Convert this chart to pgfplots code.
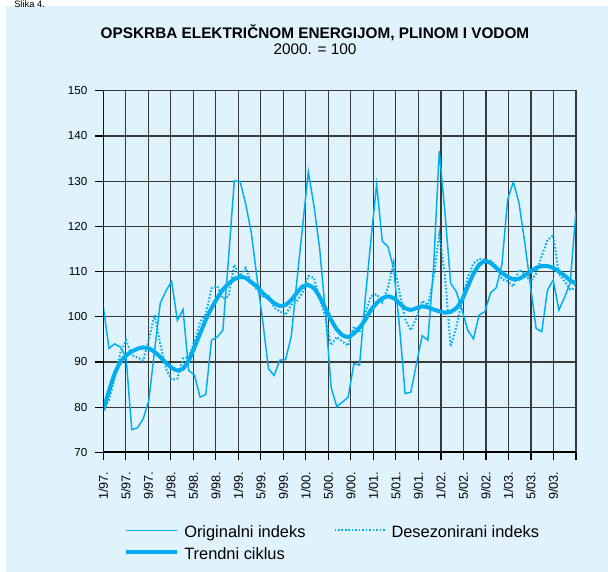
\documentclass[border=0pt]{standalone}
\usepackage{fontspec}
\setmainfont{Liberation Sans}
\usepackage{pgfplots}
\pgfplotsset{compat=1.18}
\usepackage{pgfplotstable}
\definecolor{bg}{HTML}{E0F2FC}
\definecolor{cy}{HTML}{00AEEF}
\definecolor{gridc}{HTML}{3A3A3A}

\pgfplotstableread{
i orig desez trend
0 102.2 79.5 79.3
1 93.0 81.5 83.6
2 94.0 86.5 87.4
3 93.3 92.0 90.0
4 91.0 94.8 91.4
5 75.0 91.5 92.3
6 75.4 91.0 92.9
7 77.4 90.3 93.2
8 81.5 95.0 93.0
9 92.5 100.4 92.2
10 103.0 94.0 91.1
11 105.7 88.5 89.8
12 107.8 86.0 88.7
13 99.2 86.3 88.1
14 101.6 90.8 88.5
15 88.1 91.0 90.3
16 87.1 94.6 93.2
17 82.2 98.8 96.3
18 82.8 100.6 99.3
19 94.8 106.3 101.9
20 95.5 106.8 104.1
21 97.0 104.0 106.0
22 113.0 104.5 107.3
23 130.0 111.5 108.3
24 130.0 109.0 108.8
25 125.0 110.8 108.6
26 118.5 107.5 107.6
27 108.5 106.0 106.7
28 99.0 104.5 105.2
29 88.5 104.8 104.1
30 87.0 102.0 103.0
31 90.4 101.2 102.4
32 90.5 100.4 102.6
33 95.6 102.6 103.7
34 108.0 103.5 105.3
35 120.0 105.3 106.7
36 132.1 109.0 107.0
37 124.5 108.6 106.3
38 115.0 104.0 104.4
39 101.0 100.0 101.9
40 84.4 93.7 99.3
41 80.1 95.5 97.2
42 81.1 94.5 95.9
43 82.2 93.6 95.5
44 89.6 97.8 96.3
45 89.3 96.5 97.6
46 104.0 100.7 99.3
47 117.0 104.5 101.5
48 129.3 105.0 103.0
49 116.7 103.2 104.1
50 115.5 106.5 104.5
51 110.5 112.0 104.1
52 98.0 105.5 103.0
53 83.0 99.5 101.9
54 83.3 97.0 101.5
55 89.6 99.8 101.9
56 95.8 103.5 102.3
57 94.8 102.6 102.1
58 111.0 108.5 101.6
59 136.7 118.2 101.2
60 123.0 109.0 100.9
61 107.4 93.4 101.1
62 105.5 97.8 101.9
63 101.5 103.5 103.7
64 97.0 108.8 106.7
65 95.1 111.8 109.5
66 100.4 112.8 111.5
67 101.1 112.6 112.3
68 105.3 112.4 111.9
69 106.4 111.2 110.8
70 111.5 108.3 109.7
71 125.9 107.8 108.8
72 129.8 106.7 108.3
73 125.2 110.4 108.4
74 116.5 109.4 109.1
75 107.0 107.8 110.0
76 97.4 109.5 110.8
77 96.7 113.5 111.2
78 105.9 117.0 111.2
79 108.1 118.0 110.8
80 101.5 109.6 110.0
81 104.3 107.8 109.1
82 107.5 106.0 108.0
83 123.3 106.4 107.3
}\data

\begin{document}
\begin{tikzpicture}
\useasboundingbox (0,0) rectangle (456pt,-429pt);
\begin{scope}[x=0.75pt,y=-0.75pt]
\fill[white] (0,0) rectangle (608,572);
\fill[bg] (6,6) rectangle (608,572);
\node[anchor=base west, font=\fontsize{7}{8}\selectfont, inner sep=0pt] at (14,7.5) {Slika 4.};
\node[anchor=base, font=\fontsize{11.5}{13}\selectfont\bfseries, inner sep=0pt] at (315,38.5) {OPSKRBA ELEKTRIČNOM ENERGIJOM, PLINOM I VODOM};
\node[anchor=base, font=\fontsize{11.5}{13}\selectfont, inner sep=0pt] at (315,54) {2000. = 100};
\end{scope}
\begin{axis}[
  at={(77.475pt,-339.225pt)}, anchor=south west,
  scale only axis, width=354.5pt, height=271.2pt,
  xmin=0, xmax=84, ymin=70, ymax=150,
  xtick={0,4,...,84},
  xticklabels={1/97.,5/97.,9/97.,1/98.,5/98.,9/98.,1/99.,5/99.,9/99.,1/00.,5/00.,9/00.,1/01.,5/01.,9/01.,1/02.,5/02.,9/02.,1/03.,5/03.,9/03.,{}},
  ytick={70,80,...,150},
  grid=major,
  major grid style={gridc, line width=0.9pt},
  axis line style={gridc, line width=0.9pt},
  tick align=outside, xtick pos=left, ytick pos=left,
  major tick length=6pt,
  tick style={black, line width=0.9pt},
  /pgf/number format/assume math mode=true,
  yticklabel style={font=\fontsize{8.7}{10}\selectfont, xshift=-2.5pt},
  xticklabel style={yshift=-5pt, rotate=90, anchor=east, font=\fontsize{9.5}{11}\selectfont},
  legend columns=2,
  legend cell align=left,
  legend image code/.code={\draw[#1] (0pt,2pt) -- (38.25pt,2pt);},
  legend style={at={(0.0438,-0.201)}, anchor=north west, draw=none, fill=none,
    inner sep=0pt, font=\fontsize{12.3}{14}\selectfont,
    nodes={inner sep=0pt, text height=9pt, text depth=2.5pt},
    row sep=5pt,
    /tikz/every odd column/.append style={column sep=3.75pt},
    /tikz/every even column/.append style={column sep=21pt}},
]
\addplot[cy, line width=1.1pt, mark=none] table[x expr=\coordindex*84/83, y=orig]{\data};
\addlegendentry{Originalni indeks}
\addplot[cy, line width=1.5pt, mark=none, dash pattern=on 1.2pt off 1.4pt] table[x expr=\coordindex*84/83, y=desez]{\data};
\addlegendentry{Desezonirani indeks}
\addplot[cy, line width=3pt, mark=none, line join=round, smooth, tension=0.3] table[x expr=\coordindex*84/83, y=trend]{\data};
\addlegendentry{Trendni ciklus}
\draw[black, line width=1.6pt] (rel axis cs:0,1) -- (rel axis cs:0,0) -- (rel axis cs:1,0);
\end{axis}
\end{tikzpicture}
\end{document}
